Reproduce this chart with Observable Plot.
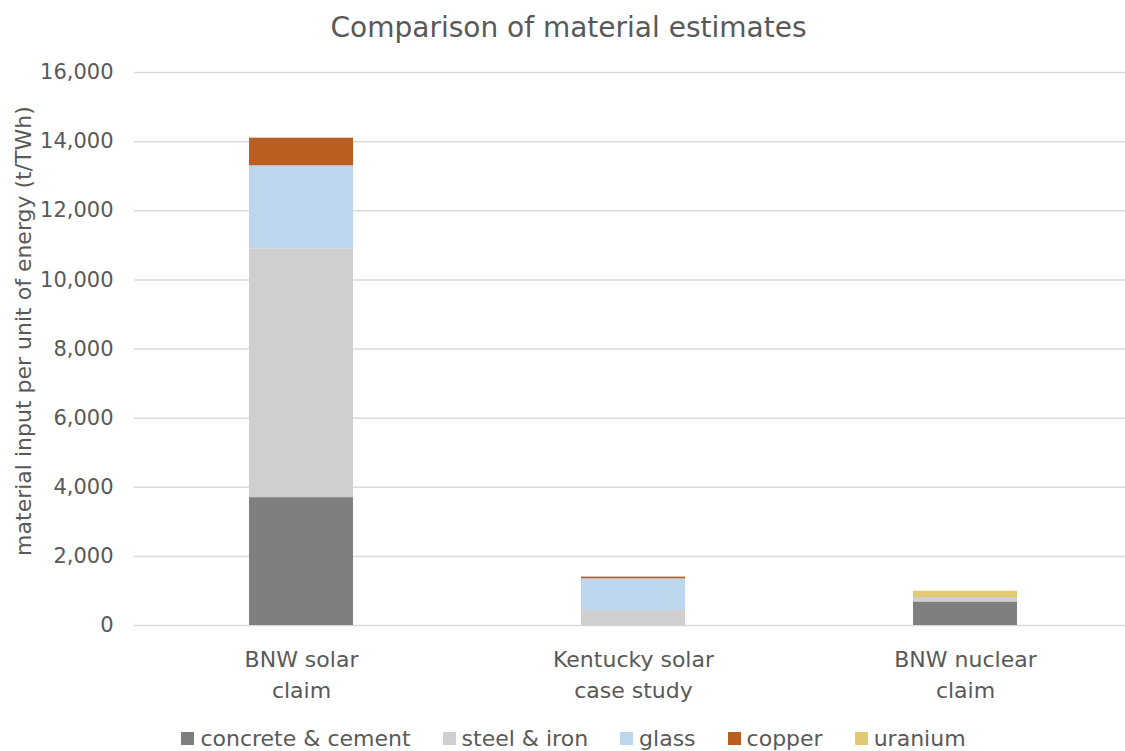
<!DOCTYPE html>
<html>
<head>
<meta charset="utf-8">
<script src="https://cdn.jsdelivr.net/npm/d3@7"></script>
<script src="https://cdn.jsdelivr.net/npm/@observablehq/plot@0.6"></script>
<style>
  html, body { margin: 0; padding: 0; background: #fff; }
  body { width: 1125px; height: 751px; overflow: hidden; font-family: "DejaVu Sans", sans-serif; color: #595959; }
  #title { height: 50px; line-height: 56px; text-align: center; font-size: 28px; color: #595959; padding-left: 12px; }
  #legend { display: flex; justify-content: center; margin-top: 7px; padding-left: 54px; }
  svg [aria-label="y-axis tick label"] { font-size: 21px; }
  svg [aria-label="x-axis tick label"] { font-size: 22px; }
  .lg-swatch { margin-right: 32px !important; font-size: 22px; }
  .lg-swatch svg { margin-right: 6px !important; }
</style>
</head>
<body>
<div id="title">Comparison of material estimates</div>
<div id="chart"></div>
<div id="legend"></div>
<script>
// Projects compared (x categories) and their two-line axis labels
const categories = ["BNW solar claim", "Kentucky solar case study", "BNW nuclear claim"];
const categoryLabels = ["BNW solar\nclaim", "Kentucky solar\ncase study", "BNW nuclear\nclaim"];

// Material series, stacked bottom to top (t/TWh)
const materials = ["concrete & cement", "steel & iron", "glass", "copper", "uranium"];
const materialColors = ["#7f7f7f", "#d0cece", "#bed6ed", "#bb5e22", "#e0c970"];
const concrete = [3700, 0, 680];
const steel = [7200, 430, 130];
const glass = [2400, 920, 0];
const copper = [800, 50, 0];
const uranium = [0, 0, 180];

const yTicks = [0, 2000, 4000, 6000, 8000, 10000, 12000, 14000, 16000];
const yLabel = "material input per unit of energy (t/TWh)";

const series = [concrete, steel, glass, copper, uranium];
const rows = [];
categories.forEach((c, i) => {
  materials.forEach((m, j) => {
    rows.push({category: c, material: m, value: series[j][i]});
  });
});

const labelOf = new Map(categories.map((c, i) => [c, categoryLabels[i]]));

const chart = Plot.plot({
  width: 1125,
  height: 665,
  marginLeft: 134,
  marginRight: -6,
  marginTop: 22,
  marginBottom: 90,
  style: {fontFamily: "'DejaVu Sans', sans-serif", color: "#595959", background: "#fff", overflow: "hidden"},
  x: {domain: categories, paddingInner: 0.687, paddingOuter: 0.3435},
  y: {domain: [0, 16000]},
  color: {domain: materials, range: materialColors},
  marks: [
    Plot.gridY(yTicks, {stroke: "#d9d9d9", strokeOpacity: 1, strokeWidth: 1.5}),
    Plot.barY(rows, Plot.stackY({x: "category", y: "value", fill: "material", order: materials})),
    Plot.axisY({
      ticks: yTicks, tickSize: 0, tickPadding: 21,
      tickFormat: d3.format(","), label: null
    }),
    // rotated y-axis title, left of the tick labels
    Plot.text([yLabel], {
      frameAnchor: "left", rotate: -90, dx: -111, dy: -18,
      textAnchor: "middle", lineAnchor: "middle",
      fontSize: 22, fill: "#595959", text: (d) => d
    }),
    Plot.axisX({
      tickSize: 0, tickPadding: 19, lineHeight: 1.42,
      tickFormat: (d) => labelOf.get(d), label: null
    })
  ]
});
document.getElementById("chart").appendChild(chart);

const legend = Plot.legend({
  color: {domain: materials, range: materialColors},
  className: "lg",
  swatchSize: 13,
  style: {fontFamily: "'DejaVu Sans', sans-serif", fontSize: "22px", color: "#595959"}
});
document.getElementById("legend").appendChild(legend);
</script>
</body>
</html>
